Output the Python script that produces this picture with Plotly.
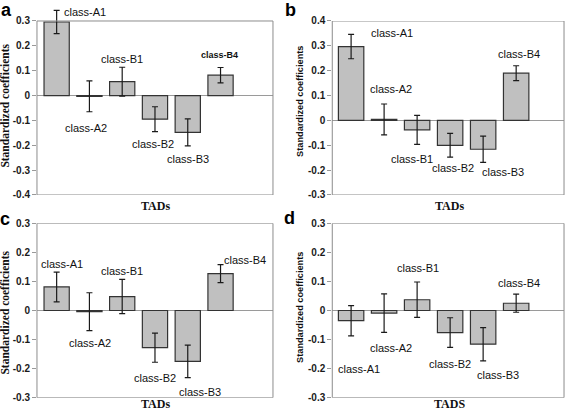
import plotly.graph_objects as go

cats = ["class-A1", "class-A2", "class-B1", "class-B2", "class-B3", "class-B4"]

a_vals = [0.296, -0.003, 0.056, -0.095, -0.148, 0.082]
a_err = [0.047, 0.062, 0.058, 0.050, 0.054, 0.031]
b_vals = [0.297, 0.004, -0.038, -0.100, -0.116, 0.190]
b_err = [0.049, 0.062, 0.058, 0.048, 0.053, 0.030]
c_vals = [0.081, -0.004, 0.048, -0.128, -0.175, 0.127]
c_err = [0.051, 0.065, 0.059, 0.050, 0.056, 0.031]
d_vals = [-0.035, -0.009, 0.037, -0.076, -0.116, 0.025]
d_err = [0.052, 0.066, 0.061, 0.051, 0.057, 0.031]

a_ticks = [0.3, 0.2, 0.1, 0, -0.1, -0.2, -0.3, -0.4]
b_ticks = [0.4, 0.3, 0.2, 0.1, 0, -0.1, -0.2, -0.3]
cd_ticks = [0.3, 0.2, 0.1, 0, -0.1, -0.2, -0.3]

# label placements (category index, value) per panel
a_lab = [(0.87, 0.336), (0.91, -0.13), (2.0, 0.147), (2.93, -0.195), (4.01, -0.255), (4.97, 0.163)]
b_lab = [(1.24, 0.35), (1.2, 0.128), (1.83, -0.155), (3.08, -0.193), (4.59, -0.206), (5.08, 0.266)]
c_lab = [(0.17, 0.159), (1.01, -0.111), (2.0, 0.137), (3.01, -0.233), (4.38, -0.28), (5.76, 0.174)]
d_lab = [(0.23, -0.201), (1.22, -0.128), (2.04, 0.147), (3.0, -0.184), (4.45, -0.222), (5.08, 0.094)]

panels = [
    dict(name="a", vals=a_vals, err=a_err, ticks=a_ticks, lab=a_lab, xd=[0.0651, 0.4806], yd=[0.5244, 0.9791],
         xr=[-0.6, 6.6], yr=[-0.4, 0.35], frame=(-0.4, 0.3), serif=True, xt="TADs",
         xt_pos=(0.2729, 0.4976), yt_pos=(0.009, 0.7427), let_pos=(0.0106, 0.976)),
    dict(name="b", vals=b_vals, err=b_err, ticks=b_ticks, lab=b_lab, xd=[0.585, 0.993], yd=[0.5244, 0.9488],
         xr=[-0.57, 6.45], yr=[-0.3, 0.4], frame=(-0.3, 0.4), serif=False, xt="TADs",
         xt_pos=(0.792, 0.4976), yt_pos=(0.528, 0.7537), let_pos=(0.5107, 0.976)),
    dict(name="c", vals=c_vals, err=c_err, ticks=cd_ticks, lab=c_lab, xd=[0.0651, 0.4806], yd=[0.0300, 0.4554],
         xr=[-0.6, 6.6], yr=[-0.3, 0.3], frame=(-0.3, 0.3), serif=True, xt="TADs",
         xt_pos=(0.2729, 0.0135), yt_pos=(0.008, 0.2366), let_pos=(0.009, 0.4658)),
    dict(name="d", vals=d_vals, err=d_err, ticks=cd_ticks, lab=d_lab, xd=[0.585, 0.993], yd=[0.0300, 0.4554],
         xr=[-0.57, 6.45], yr=[-0.3, 0.3], frame=(-0.3, 0.3), serif=False, xt="TADS",
         xt_pos=(0.792, 0.0135), yt_pos=(0.528, 0.2512), let_pos=(0.509, 0.468)),
]

SANS = "Liberation Sans, Arial, sans-serif"
SERIF = "Liberation Serif, Times New Roman, serif"

fig = go.Figure()
annotations = []
shapes = []
layout = {}
C = dict(xanchor="center", yanchor="middle", showarrow=False)

for i, p in enumerate(panels):
    k = "" if i == 0 else str(i + 1)
    xa, ya = "x" + k, "y" + k
    fig.add_trace(go.Bar(
        x=list(range(len(cats))), y=p["vals"], width=0.77,
        marker=dict(color="#c0c0c0", line=dict(color="#333333", width=1.2)),
        error_y=dict(type="data", array=p["err"], color="#1a1a1a", thickness=1.2, width=3),
        xaxis=xa, yaxis=ya, showlegend=False, hoverinfo="skip",
    ))
    layout["xaxis" + k] = dict(domain=p["xd"], range=p["xr"], showticklabels=False, showgrid=False,
                               zeroline=False, showline=False, ticks="", anchor=ya, fixedrange=True,
                               automargin=False)
    layout["yaxis" + k] = dict(domain=p["yd"], range=p["yr"], tickvals=p["ticks"],
                               ticktext=[("0" if t == 0 else f"{t:.1f}") for t in p["ticks"]],
                               ticks="outside", ticklen=4, tickcolor="#999999", tickwidth=1,
                               tickfont=dict(family=SANS, size=10, color="#1a1a1a", weight="bold"),
                               showgrid=False, zeroline=True, zerolinecolor="#9a9a9a", zerolinewidth=1,
                               showline=False, anchor=xa, fixedrange=True, automargin=False)
    shapes.append(dict(type="rect", xref=xa + " domain", yref=ya, x0=0, x1=1,
                       y0=p["frame"][0], y1=p["frame"][1],
                       line=dict(color="#8c8c8c", width=1), layer="above"))
    for j, (lx, ly) in enumerate(p["lab"]):
        small = (p["name"] == "a" and j == 5)
        annotations.append(dict(x=lx, y=ly, xref=xa, yref=ya, text=cats[j], **C,
                                font=dict(family=SANS, size=9 if small else 11, color="#111111",
                                          weight="bold" if small else "normal")))
    annotations.append(dict(x=p["xt_pos"][0], y=p["xt_pos"][1], xref="paper", yref="paper",
                            text=p["xt"], **C,
                            font=dict(family=SERIF, size=12, color="#111111", weight="bold")))
    annotations.append(dict(x=p["yt_pos"][0], y=p["yt_pos"][1], xref="paper", yref="paper",
                            text="Standardized coefficients", textangle=-90, **C,
                            font=dict(family=SERIF if p["serif"] else SANS,
                                      size=11.5 if p["serif"] else 9.2, color="#111111", weight="bold")))
    annotations.append(dict(x=p["let_pos"][0], y=p["let_pos"][1], xref="paper", yref="paper",
                            text=p["name"], **C,
                            font=dict(family=SANS, size=18, color="#000000", weight="bold")))

fig.update_layout(
    template="none",
    width=568, height=410, margin=dict(l=0, r=0, t=0, b=0, pad=0),
    paper_bgcolor="white", plot_bgcolor="white",
    annotations=annotations, shapes=shapes, **layout,
)

fig.write_html("out.html", config={"displayModeBar": False},
               post_script="document.body.style.margin='0';document.body.style.overflow='hidden';")
